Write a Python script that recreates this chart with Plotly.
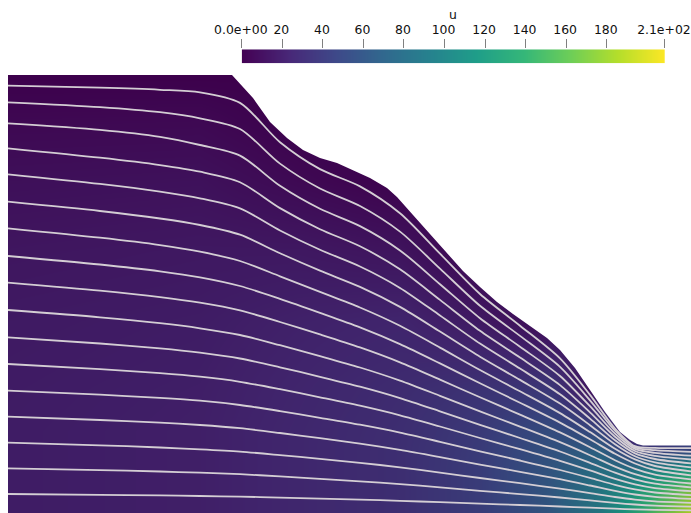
import plotly.graph_objects as go
import plotly.colors as pc

# ---------------- data (image-frame coordinates, y measured downward) -------------
# upper wall of the channel
wall_x = [8, 232, 240, 253, 270, 287, 303, 320, 337, 353, 370, 387, 397, 413, 430,
          447, 463, 480, 497, 513, 530, 547, 560, 575, 590, 605, 620, 630, 637, 643, 691]
wall_y = [75, 75, 84, 98, 122, 138, 150, 158, 163, 170, 178, 188, 197, 215, 234,
          253, 271, 287, 302, 314, 326, 338, 350, 368, 390, 412, 432, 440, 444, 445.5, 445.5]

# streamline positions read at these x stations
station_x = [8, 100, 160, 200, 240, 280, 320, 360, 400, 440, 480, 520, 560, 590, 615, 635, 655, 691]
stream_1 = [85.7, 87.7, 89.8, 92.3, 102.9, 142.2, 169.1, 186.4, 213.3, 253.7, 294.0, 325.7, 358.4, 394.9, 428.5, 446.2, 447.9, 448.2]
stream_2 = [102.3, 107.1, 112.2, 118.3, 129.0, 163.6, 188.5, 206.0, 231.6, 268.6, 305.8, 335.9, 366.9, 400.3, 430.7, 447.4, 450.2, 451.9]
stream_3 = [123.3, 129.8, 136.8, 145.0, 155.6, 185.8, 208.8, 226.1, 250.4, 284.2, 318.2, 346.7, 376.0, 406.2, 433.6, 448.9, 452.9, 455.7]
stream_4 = [148.3, 157.7, 165.1, 171.7, 182.2, 208.1, 229.2, 246.3, 269.3, 299.9, 330.8, 357.6, 385.1, 412.3, 436.7, 451.0, 455.9, 459.5]
stream_5 = [174.3, 183.9, 191.6, 198.3, 208.4, 230.5, 249.8, 266.5, 287.9, 315.5, 343.6, 368.6, 394.3, 418.6, 440.3, 453.4, 459.0, 463.4]
stream_6 = [201.7, 211.0, 218.5, 225.0, 234.7, 253.3, 270.7, 286.9, 306.9, 331.6, 356.7, 379.9, 403.6, 425.2, 444.2, 456.2, 462.4, 467.4]
stream_7 = [228.3, 237.7, 245.1, 251.7, 261.0, 276.3, 291.9, 307.5, 325.8, 347.6, 370.0, 391.3, 413.1, 432.1, 448.7, 459.4, 466.0, 471.4]
stream_8 = [256.0, 264.5, 271.3, 277.3, 286.0, 298.9, 312.9, 327.4, 344.1, 363.4, 383.3, 402.7, 422.6, 439.3, 453.8, 463.5, 470.0, 475.3]
stream_9 = [282.7, 290.7, 297.1, 302.7, 310.4, 322.0, 334.4, 347.4, 362.3, 379.6, 397.3, 414.6, 432.4, 447.2, 460.2, 468.8, 474.6, 479.4]
stream_10 = [310.0, 317.3, 323.2, 328.3, 335.0, 345.2, 356.1, 367.5, 380.6, 395.8, 411.4, 426.6, 442.2, 455.2, 466.6, 474.2, 479.3, 483.5]
stream_11 = [337.3, 343.5, 348.4, 352.7, 358.5, 367.3, 376.8, 386.7, 398.1, 411.3, 424.8, 438.0, 451.5, 462.9, 472.7, 479.3, 483.7, 487.4]
stream_12 = [364.0, 369.1, 373.1, 376.7, 381.8, 389.2, 397.3, 405.7, 415.3, 426.5, 438.0, 449.2, 460.8, 470.4, 478.8, 484.4, 488.1, 491.2]
stream_13 = [390.7, 394.7, 397.9, 400.7, 405.0, 411.1, 417.8, 424.7, 432.6, 441.8, 451.3, 460.5, 470.0, 477.9, 484.8, 489.4, 492.5, 495.1]
stream_14 = [416.7, 420.0, 422.7, 425.0, 428.2, 433.0, 438.2, 443.7, 449.9, 457.1, 464.6, 471.8, 479.2, 485.5, 490.9, 494.5, 496.9, 498.9]
stream_15 = [442.7, 445.3, 447.5, 449.3, 451.6, 455.1, 458.9, 462.8, 467.3, 472.6, 478.0, 483.2, 488.6, 493.1, 497.0, 499.6, 501.4, 502.8]
stream_16 = [468.3, 470.1, 471.5, 472.7, 474.2, 476.4, 478.8, 481.3, 484.1, 487.4, 490.8, 494.1, 497.5, 500.4, 502.9, 504.5, 505.6, 506.6]
stream_17 = [494.0, 494.8, 495.4, 496.0, 496.6, 497.6, 498.6, 499.6, 500.8, 502.2, 503.6, 505.0, 506.5, 507.7, 508.7, 509.4, 509.9, 510.3]
streamlines = [stream_1, stream_2, stream_3, stream_4, stream_5, stream_6, stream_7, stream_8, stream_9,
               stream_10, stream_11, stream_12, stream_13, stream_14, stream_15, stream_16, stream_17]

# velocity u sampled on a coarse grid (rows = u_y, columns = u_x)
u_x = [8, 200, 300, 400, 480, 550, 600, 630, 660, 691]
u_y = [75, 120, 180, 250, 320, 390, 430, 450, 470, 490, 513]
u_75 = [0.5, 0.5, 0.5, 1, 3, 6, 6, 12, 25, 30]
u_120 = [5, 5.5, 0.5, 1, 3, 6, 6, 12, 25, 30]
u_180 = [10, 11, 5.8, 1, 3, 6, 6, 12, 25, 30]
u_250 = [14, 15.5, 15.5, 12.6, 3, 6, 6, 12, 25, 30]
u_320 = [16.5, 18, 21.3, 23.7, 16, 6, 6, 12, 25, 30]
u_390 = [17.6, 19.5, 24, 29, 35, 39, 6, 12, 25, 30]
u_430 = [18, 20, 25, 30.5, 40, 55, 49.4, 12, 25, 30]
u_450 = [18, 20, 25, 31, 41.2, 59, 70.6, 40.8, 42.6, 50.8]
u_470 = [18, 20, 25, 31, 42, 61, 83.8, 85.8, 105.3, 125.2]
u_490 = [18, 20, 25, 31, 42, 62, 90.3, 113.8, 144.3, 171.4]
u_513 = [18, 20, 25, 31, 42, 62, 92, 125, 160, 190]
u_grid = [u_75, u_120, u_180, u_250, u_320, u_390, u_430, u_450, u_470, u_490, u_513]

u_min, u_max = 0.0, 208.7
cbar_ticks = [0, 20, 40, 60, 80, 100, 120, 140, 160, 180, 208.7]
cbar_text = ["0.0e+00", "20", "40", "60", "80", "100", "120", "140", "160", "180", "2.1e+02"]

# ---------------- styling ----------------
W, H = 691, 513
FONT = "DejaVu Sans"

viridis = pc.sequential.Viridis
def shade(hexcol, k):
    r, g, b = pc.hex_to_rgb(hexcol)
    return f"rgb({int(r*k)},{int(g*k)},{int(b*k)})"
n = len(viridis)
field_scale = [[i / (n - 1), shade(c, 0.9)] for i, c in enumerate(viridis)]
bar_scale = [[i / (n - 1), c] for i, c in enumerate(viridis)]

fig = go.Figure()

fig.add_trace(go.Heatmap(
    x=u_x, y=u_y, z=u_grid, zsmooth="best", colorscale=field_scale,
    zmin=u_min, zmax=u_max, showscale=False, hoverinfo="skip"))

# white mask outside the channel
mask_x = [-20, -20, 8] + wall_x + [720, 720]
mask_y = [-20, 540, 540] + wall_y + [wall_y[-1], -20]
fig.add_trace(go.Scatter(x=mask_x, y=mask_y, mode="lines", fill="toself",
                         fillcolor="white", line=dict(width=0, color="white"),
                         hoverinfo="skip"))

for ys in streamlines:
    fig.add_trace(go.Scatter(x=station_x, y=ys, mode="lines",
                             line=dict(color="rgb(212,206,212)", width=1.8, shape="spline", smoothing=0.8),
                             hoverinfo="skip"))

# colour bar drawn as a small heatmap on its own axes
fig.add_trace(go.Heatmap(x=cbar_ticks, y=[0, 1], z=[cbar_ticks, cbar_ticks], zsmooth="best",
                         colorscale=bar_scale, zmin=u_min, zmax=u_max, showscale=False,
                         xaxis="x2", yaxis="y2", hoverinfo="skip"))

bar_left, bar_right = 241.7, 665.0
bar_top, bar_bottom = 49.3, 63.3

fig.update_layout(
    width=W, height=H, margin=dict(l=0, r=0, t=0, b=0, pad=0, autoexpand=False),
    paper_bgcolor="white", plot_bgcolor="white", showlegend=False,
    xaxis=dict(domain=[0, 1], range=[0, W], visible=False, showgrid=False, zeroline=False,
               automargin=False),
    yaxis=dict(domain=[0, 1], range=[H, 0], visible=False, showgrid=False, zeroline=False,
               automargin=False),
    xaxis2=dict(domain=[bar_left / W, bar_right / W], anchor="y2", range=[-0.05, u_max + 0.05],
                side="top", tickmode="array", tickvals=cbar_ticks, ticktext=cbar_text,
                ticks="outside", ticklen=9, tickwidth=1, tickcolor="#808080",
                ticklabelshift=-1,
                showgrid=False, zeroline=False, showline=False, automargin=False,
                tickfont=dict(family=FONT, size=12.4, color="#111111")),
    yaxis2=dict(domain=[1 - bar_bottom / H, 1 - bar_top / H], anchor="x2", range=[0, 1],
                visible=False, automargin=False),
    annotations=[dict(text="u", x=(bar_left + bar_right) / 2 / W, y=1 - 14 / H,
                      xref="paper", yref="paper", showarrow=False, xanchor="center", yanchor="middle",
                      font=dict(family=FONT, size=12.4, color="#111111"))],
)

fig.write_html("out.html", config={"displayModeBar": False, "staticPlot": True},
               post_script="document.body.style.margin='0px';document.body.style.overflow='hidden';")
